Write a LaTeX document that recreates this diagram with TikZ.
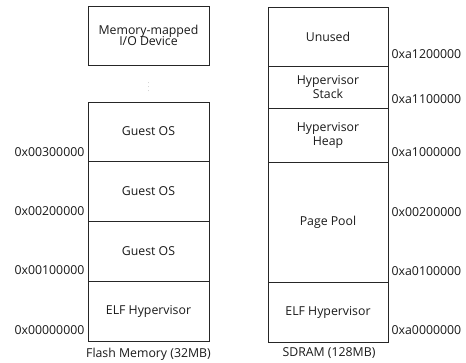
\documentclass[tikz,border=0pt]{standalone}
\usepackage{fontspec}
\setmainfont{Open Sans}
\begin{document}
\begin{tikzpicture}[x=1pt,y=-1pt,
  every node/.style={font=\fontsize{12.3}{14}\selectfont, text=black!90},
  cell/.style={draw=black!85, line width=0.9pt, minimum width=121pt, align=center, inner sep=0pt},
  addrl/.style={anchor=east, inner sep=0pt},
  addrr/.style={anchor=west, inner sep=0pt},
  caption/.style={inner sep=0pt}]
\useasboundingbox (0,0) rectangle (466,363);

% Flash memory column
\node[cell, minimum height=59pt] (mmio) at (148.5,35.5) {Memory-mapped\\[-3pt]I/O Device};
\node[inner sep=0pt, font=\tiny, text=black!60] (dots) at (148.5,84) {$\vdots$};
\node[cell, minimum height=59pt] (g3) at (148.5,131.5) {Guest OS};
\node[cell, minimum height=60pt] (g2) at (148.5,191) {Guest OS};
\node[cell, minimum height=60pt] (g1) at (148.5,251) {Guest OS};
\node[cell, minimum height=60pt] (elfl) at (148.5,311) {ELF Hypervisor};
\node[caption] (capl) at (148.5,354) {Flash Memory (32MB)};

\node[addrl] (a3) at ([xshift=-3pt,yshift=9pt]g3.south west) {0x00300000};
\node[addrl] (a2) at ([xshift=-3pt,yshift=10pt]g2.south west) {0x00200000};
\node[addrl] (a1) at ([xshift=-3pt,yshift=11pt]g1.south west) {0x00100000};
\node[addrl] (a0) at ([xshift=-3pt,yshift=11pt]elfl.south west) {0x00000000};

% SDRAM column
\node[cell, minimum width=120pt, minimum height=59pt] (unused) at (328,36.5) {Unused};
\node[cell, minimum width=120pt, minimum height=42pt] (stack) at (328,87) {Hypervisor\\Stack};
\node[cell, minimum width=120pt, minimum height=54pt] (heap) at (328,135) {Hypervisor\\Heap};
\node[cell, minimum width=120pt, minimum height=120pt] (pool) at (328,222) {Page Pool};
\node[cell, minimum width=120pt, minimum height=60pt] (elfr) at (328,312) {ELF Hypervisor};
\node[caption] (capr) at (329,353) {SDRAM (128MB)};

\node[addrr] (b5) at ([xshift=3pt,yshift=12pt]unused.south east) {0xa1200000};
\node[addrr] (b4) at ([xshift=3pt,yshift=9pt]stack.south east) {0xa1100000};
\node[addrr] (b3) at ([xshift=3pt,yshift=10pt]heap.south east) {0xa1000000};
\node[addrr] (b2) at ([xshift=3pt,yshift=10pt]pool.east) {0x00200000};
\node[addrr] (b1) at ([xshift=3pt,yshift=11pt]pool.south east) {0xa0100000};
\node[addrr] (b0) at ([xshift=3pt,yshift=12pt]elfr.south east) {0xa0000000};
\end{tikzpicture}
\end{document}
